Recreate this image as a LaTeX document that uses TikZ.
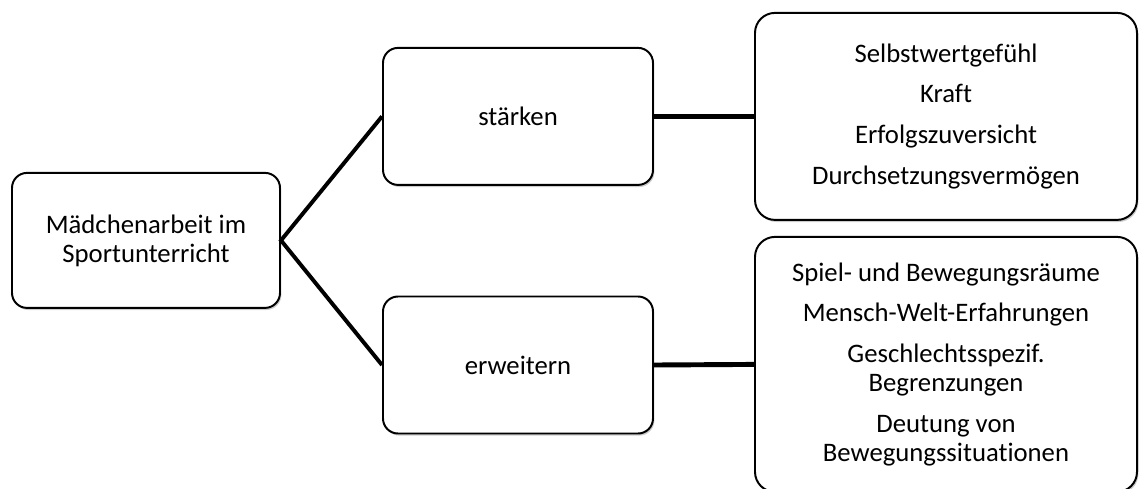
\documentclass[tikz,border=0pt]{standalone}
\usepackage{fontspec}
\setmainfont{Carlito}[Ligatures=NoCommon]
\usetikzlibrary{shadows}

\tikzset{
  box/.style={draw=black, line width=1.4pt, fill=white, align=center, inner sep=0pt,
              font=\fontsize{19}{20.6}\selectfont,
              drop shadow={shadow xshift=1pt, shadow yshift=-1.5pt, fill=black, opacity=0.2}},
  smallbox/.style={box, rounded corners=0.375cm, minimum width=6.75cm, minimum height=3.425cm},
  bigbox/.style={box, rounded corners=0.5cm, minimum width=9.55cm},
  branch/.style={line width=2.8pt, line join=miter},
  link/.style={line width=3.5pt}
}

\begin{document}
\begin{tikzpicture}
  \useasboundingbox (0,0) rectangle (28.5,-12.2);

  \node[smallbox, minimum width=6.7cm, minimum height=3.375cm] (root) at (3.65,-6.01)
    {Mädchenarbeit im\\ Sportunterricht};

  \node[smallbox] (staerken)  at (12.95,-2.91)  {stärken};
  \node[smallbox] (erweitern) at (12.95,-9.125) {erweitern};

  \node[bigbox, minimum height=5.175cm] (ziele1) at (23.65,-2.91)
    {Selbstwertgefühl\\[8.5pt] Kraft\\[8.5pt] Erfolgszuversicht\\[8.5pt] Durchsetzungsvermögen};
  \node[bigbox, minimum height=6.375cm] (ziele2) at (23.65,-9.11)
    {Spiel- und Bewegungsräume\\[8.5pt] Mensch-Welt-Erfahrungen\\[8.5pt]
     Geschlechtsspezif.\\ Begrenzungen\\[8.5pt] Deutung von\\ Bewegungssituationen};

  \draw[branch] (staerken.west) -- (root.east) -- (erweitern.west);
  \draw[link] (staerken.east) -- (ziele1.west);
  \draw[link] (erweitern.east) -- (ziele2.west);
\end{tikzpicture}
\end{document}
